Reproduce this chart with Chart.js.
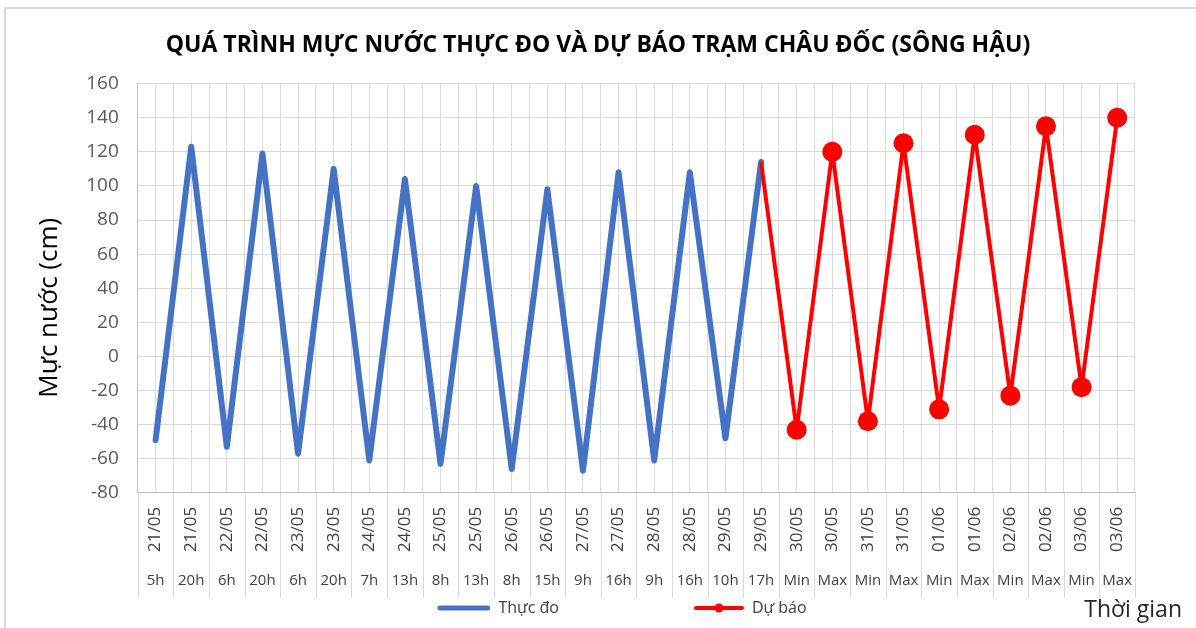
<!DOCTYPE html>
<html lang="vi">
<head>
    <meta charset="UTF-8">
    <title>Mực nước Châu Đốc</title>
    <script src="https://cdn.jsdelivr.net/npm/chart.js"></script>
    <style>
        body { margin: 0; background: #fff; }
        .wrap { position: relative; width: 1196px; height: 628px; }
        .frame {
            position: absolute; left: 4px; top: 7px; right: -4px; bottom: -4px;
            border-top: 2px solid #d9d9d9; border-left: 2px solid #d9d9d9;
            pointer-events: none;
        }
    </style>
</head>
<body>
<div class="wrap">
    <canvas id="chart"></canvas>
    <div class="frame"></div>
</div>
<script>
const labelDates = ['21/05','21/05','22/05','22/05','23/05','23/05','24/05','24/05','25/05','25/05',
    '26/05','26/05','27/05','27/05','28/05','28/05','29/05','29/05','30/05','30/05',
    '31/05','31/05','01/06','01/06','02/06','02/06','03/06','03/06'];
const labelHours = ['5h','20h','6h','20h','6h','20h','7h','13h','8h','13h',
    '8h','15h','9h','16h','9h','16h','10h','17h','Min','Max',
    'Min','Max','Min','Max','Min','Max','Min','Max'];

// measured levels (cm)
const thucDo = [-49, 123, -53, 119, -57, 110, -61, 104, -63, 100,
    -66, 98, -67, 108, -61, 108, -48, 114,
    null, null, null, null, null, null, null, null, null, null];
// forecast, starts from the last measured value
const duBao = [null, null, null, null, null, null, null, null, null, null,
    null, null, null, null, null, null, null, 114,
    -43, 120, -38, 125, -31, 130, -23, 135, -18, 140];

const yTicks = {min: -80, max: 160, step: 20};

const FONT = "'Open Sans', sans-serif";
const BLUE = '#4472C4';
const RED = '#FF0000';
const LEGEND_BOX = 101;

const labels = labelDates.map((d, i) => d + ' ' + labelHours[i]);

// legend samples: line sits at the right end of the box
function lineSample(color, len, lw, dot) {
    const c = document.createElement('canvas');
    c.width = LEGEND_BOX; c.height = 14;
    const g = c.getContext('2d');
    const x0 = LEGEND_BOX - len;
    g.strokeStyle = color; g.lineWidth = lw; g.lineCap = 'round';
    g.beginPath(); g.moveTo(x0 + lw / 2, 7); g.lineTo(LEGEND_BOX - lw / 2, 7); g.stroke();
    if (dot) {
        g.fillStyle = color;
        g.beginPath(); g.arc(x0 + len / 2, 7, 4.5, 0, Math.PI * 2); g.fill();
    }
    return c;
}
const legendSamples = [lineSample(BLUE, 53, 5, false), lineSample(RED, 50, 4, true)];

const extras = {
    id: 'extras',
    afterDraw(chart) {
        const ctx = chart.ctx;
        const x = chart.scales.x;
        const x2 = chart.scales.x2;
        const half = (x.getPixelForValue(1) - x.getPixelForValue(0)) / 2;
        ctx.save();
        ctx.strokeStyle = '#d9d9d9';
        ctx.lineWidth = 1;
        for (let i = 0; i <= labels.length; i++) {
            const px = Math.round(x.getPixelForValue(i) - half) + 0.5;
            ctx.beginPath();
            ctx.moveTo(px, chart.chartArea.bottom);
            ctx.lineTo(px, x2.bottom + 2);
            ctx.stroke();
        }
        ctx.fillStyle = '#262626';
        ctx.font = '23px ' + FONT;
        ctx.textAlign = 'right';
        ctx.textBaseline = 'middle';
        ctx.fillText('Thời gian', 1182, 610);
        ctx.restore();
    }
};

new Chart(document.getElementById('chart'), {
    type: 'line',
    data: {
        labels: labels,
        datasets: [
            {
                label: 'Thực đo',
                data: thucDo,
                borderColor: BLUE,
                backgroundColor: BLUE,
                borderWidth: 6,
                borderJoinStyle: 'round',
                borderCapStyle: 'round',
                pointRadius: 0,
                order: 2
            },
            {
                label: 'Dự báo',
                data: duBao,
                borderColor: RED,
                backgroundColor: RED,
                borderWidth: 4,
                borderJoinStyle: 'round',
                pointRadius: ctx => (thucDo[ctx.dataIndex] != null ? 0 : 10),
                pointHoverRadius: 10,
                pointBorderWidth: 0,
                order: 1
            }
        ]
    },
    options: {
        responsive: true,
        maintainAspectRatio: false,
        animation: false,
        layout: { padding: { left: 30, right: 30, top: 0, bottom: 2 } },
        plugins: {
            title: {
                display: true,
                text: 'QUÁ TRÌNH MỰC NƯỚC THỰC ĐO VÀ DỰ BÁO TRẠM CHÂU ĐỐC (SÔNG HẬU)',
                color: '#000',
                font: { family: FONT, size: 23, weight: 'bold' },
                padding: { top: 32, bottom: 24 }
            },
            legend: {
                position: 'bottom',
                labels: {
                    usePointStyle: true,
                    pointStyleWidth: LEGEND_BOX,
                    color: '#404040',
                    font: { family: FONT, size: 16 },
                    padding: 4,
                    sort: (a, b) => a.datasetIndex - b.datasetIndex,
                    generateLabels(chart) {
                        const items = Chart.defaults.plugins.legend.labels.generateLabels(chart);
                        items.forEach(it => {
                            it.pointStyle = legendSamples[it.datasetIndex];
                            if (it.datasetIndex === 0) it.text = it.text + '\u2003'.repeat(5);
                        });
                        return items;
                    }
                }
            },
            tooltip: { enabled: false }
        },
        scales: {
            x: {
                type: 'category',
                offset: true,
                grid: { offset: true, color: '#d9d9d9', drawTicks: false },
                border: { color: '#bfbfbf' },
                ticks: {
                    autoSkip: false,
                    minRotation: 90,
                    maxRotation: 90,
                    padding: 14,
                    color: '#404040',
                    font: { family: FONT, size: 17 },
                    callback: (v, i) => labelDates[i]
                }
            },
            x2: {
                type: 'category',
                position: 'bottom',
                offset: true,
                weight: 1,
                grid: { offset: false, color: '#d9d9d9', drawTicks: false, drawOnChartArea: true },
                border: { display: false },
                ticks: {
                    autoSkip: false,
                    maxRotation: 0,
                    padding: 6,
                    color: '#404040',
                    font: { family: FONT, size: 15 },
                    callback: (v, i) => labelHours[i]
                }
            },
            y: {
                min: yTicks.min,
                max: yTicks.max,
                grid: { color: '#d9d9d9', drawTicks: false },
                border: { color: '#bfbfbf' },
                ticks: {
                    stepSize: yTicks.step,
                    padding: 19,
                    color: '#595959',
                    font: { family: FONT, size: 19 }
                },
                title: {
                    display: true,
                    text: 'Mực nước (cm)\u2003\u2002',
                    color: '#000',
                    font: { family: FONT, size: 26 },
                    padding: { top: 4, bottom: 2 }
                }
            },
            // empty right margin so the plot ends where the original does
            yRight: {
                position: 'right',
                display: true,
                grid: { drawOnChartArea: false, drawTicks: false },
                border: { display: false },
                ticks: { display: false },
                afterFit(scale) { scale.width = 31; }
            }
        }
    },
    plugins: [extras]
});
</script>
</body>
</html>
